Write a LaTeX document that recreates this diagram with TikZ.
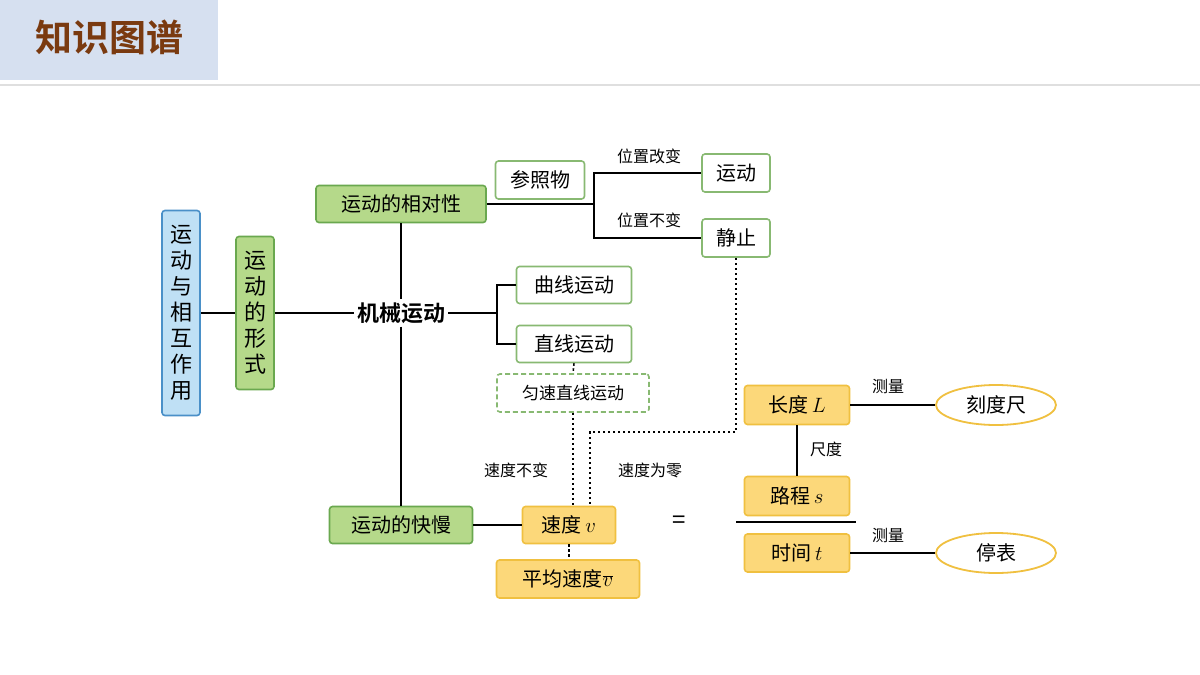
\documentclass[tikz,border=0pt]{standalone}
\usepackage{fontspec}
\setmainfont{Noto Sans CJK SC}
\newfontfamily\cjkb{Noto Sans CJK SC Bold}
\usetikzlibrary{shapes.geometric}
\definecolor{gfill}{HTML}{B5D98A}\definecolor{gdraw}{HTML}{6AA84F}
\definecolor{bfill}{HTML}{BFE0F5}\definecolor{bdraw}{HTML}{4A90C8}
\definecolor{yfill}{HTML}{FCD87A}\definecolor{ydraw}{HTML}{F0C040}
\definecolor{hfill}{HTML}{D6E0F0}\definecolor{htext}{HTML}{7A3A10}
\begin{document}
\begin{tikzpicture}[x=1pt,y=-1pt,
 box/.style={rectangle,rounded corners=3pt,line width=1.6pt,inner sep=0pt,font=\fontsize{20}{20}\selectfont},
 gbox/.style={box,fill=gfill,draw=gdraw},
 wbox/.style={box,fill=white,draw=gdraw!80},
 ybox/.style={box,fill=yfill,draw=ydraw},
 lab/.style={font=\fontsize{16}{16}\selectfont},
 ln/.style={line width=1.3pt},
 dt/.style={line width=1.6pt,dash pattern=on 2.5pt off 2.5pt}]
\useasboundingbox (0,0) rectangle (1200,675);
\fill[white] (0,0) rectangle (1200,675);
\fill[hfill] (0,0) rectangle (218,80);
\node[font=\cjkb\fontsize{37}{37}\selectfont,text=htext] (title) at (109,37) {知识图谱};
\draw[gray!25,line width=1.5pt] (0,85) -- (1200,85);
% nodes
\node[box,fill=bfill,draw=bdraw,minimum width=38pt,minimum height=205pt,align=center,font=\fontsize{22}{26}\selectfont] (root) at (181,313) {运\\动\\与\\相\\互\\作\\用};
\node[gbox,minimum width=38pt,minimum height=153pt,align=center,font=\fontsize{22}{26}\selectfont] (form) at (255,313) {运\\动\\的\\形\\式};
\node[font=\cjkb\fontsize{22}{22}\selectfont,inner sep=3pt] (mech) at (401,313) {机械运动};
\node[gbox,minimum width=170pt,minimum height=37pt] (rel) at (401,204) {运动的相对性};
\node[wbox,minimum width=89pt,minimum height=38pt] (ref) at (540,180) {参照物};
\node[wbox,minimum width=68pt,minimum height=38pt] (mov) at (736,173) {运动};
\node[wbox,minimum width=68pt,minimum height=38pt] (sta) at (736,238) {静止};
\node[wbox,minimum width=115pt,minimum height=37pt] (cur) at (574,285) {曲线运动};
\node[wbox,minimum width=115pt,minimum height=37pt] (str) at (574,344) {直线运动};
\node[box,fill=white,draw=gdraw!80,dash pattern=on 5pt off 3pt,minimum width=152pt,minimum height=38pt,font=\fontsize{17}{17}\selectfont] (uni) at (573,393) {匀速直线运动};
\node[gbox,minimum width=143pt,minimum height=37pt] (fast) at (401,525) {运动的快慢};
\node[ybox,minimum width=93pt,minimum height=37pt] (v) at (569,525) {速度$\,v$};
\node[ybox,minimum width=143pt,minimum height=38pt] (avg) at (568,579) {平均速度$\overline{v}$};
\node[ybox,minimum width=105pt,minimum height=39pt] (L) at (797,405) {长度$\,L$};
\node[ybox,minimum width=105pt,minimum height=39pt] (s) at (797,496) {路程$\,s$};
\node[ybox,minimum width=105pt,minimum height=38pt] (t) at (797,553) {时间$\,t$};
\node[ellipse,draw=ydraw,line width=1.8pt,fill=white,minimum width=120pt,minimum height=40pt,font=\fontsize{20}{20}\selectfont] (ruler) at (996,405) {刻度尺};
\node[ellipse,draw=ydraw,line width=1.8pt,fill=white,minimum width=120pt,minimum height=40pt,font=\fontsize{20}{20}\selectfont] (watch) at (996,553) {停表};
\node[font=\fontsize{24}{24}\selectfont] (eq) at (679,522) {=};
% labels
\node[lab] (l1) at (649,156) {位置改变};
\node[lab] (l2) at (649,220) {位置不变};
\node[lab] (l3) at (516,470) {速度不变};
\node[lab] (l4) at (650,470) {速度为零};
\node[lab] (l5) at (826,449) {尺度};
\node[lab] (l6) at (888,386) {测量};
\node[lab] (l7) at (888,535) {测量};
% connectors
\draw[ln] (root.east) -- (form.west);
\draw[ln] (form.east) -- (mech.west);
\draw[ln] (rel.south) -- (mech.north);
\draw[ln] (mech.south) -- (fast.north);
\draw[ln] (rel.east) -- (594,204) coordinate (b1);
\draw[ln] (mov.west) -| (b1) |- (sta.west);
\draw[ln] (mech.east) -- (497,313) coordinate (b2);
\draw[ln] (cur.west) -| (b2) |- (str.west);
\draw[ln] (fast.east) -- (v.west);
\draw[dt] (str.south) -- (uni.north);
\draw[dt] (uni.south) -- (uni.south |- v.north);
\draw[dt] (v.south) -- (v.south |- avg.north);
\draw[dt] (sta.south) |- (590,432) coordinate (c1) -- (c1 |- v.north);
\draw[ln] (L.south) -- (s.north);
\draw[ln] (L.east) -- (ruler.west);
\draw[ln] (t.east) -- (watch.west);
\draw[line width=1.6pt] (736,522) coordinate (f1) -- (856,522) coordinate (f2);
\end{tikzpicture}
\end{document}
